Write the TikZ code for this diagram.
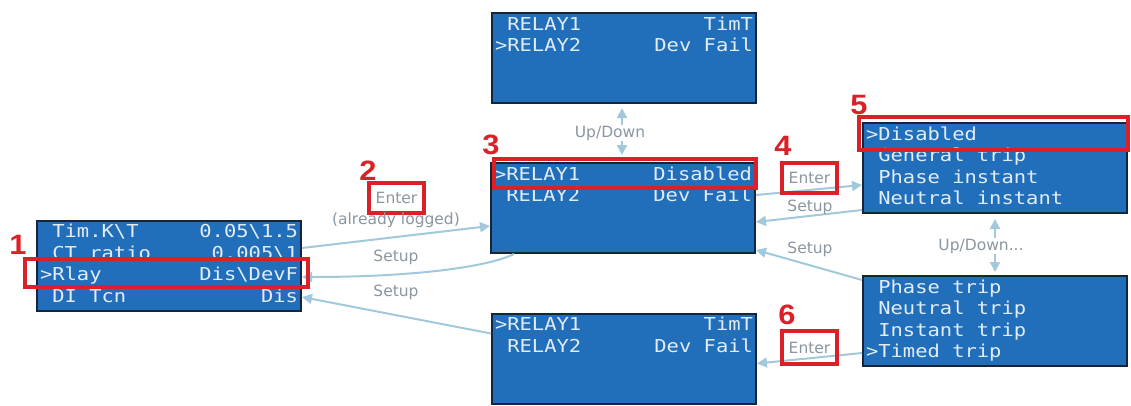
\documentclass[tikz,border=0pt]{standalone}
\usepackage{fontspec}
\setmainfont{DejaVu Sans}
\newfontfamily\lcdfont[FakeStretch=1.15]{DejaVu Sans Mono}
\newfontfamily\numfont[FakeStretch=1.1]{Liberation Sans}
\usetikzlibrary{arrows.meta,calc}
\definecolor{lcdfill}{RGB}{33,111,186}
\definecolor{lcdborder}{RGB}{22,38,58}
\definecolor{lcdtext}{RGB}{226,236,246}
\definecolor{hlred}{RGB}{218,33,40}
\definecolor{connc}{RGB}{162,200,220}
\definecolor{lblc}{RGB}{138,150,160}
\newcommand{\Ln}[2]{\makebox[258pt][l]{\spaceskip=\fontcharwd\font`M\relax\xspaceskip=\spaceskip\strut#1\hfill#2}}
\newcommand{\Sp}{\phantom{>}}
\begin{document}
\begin{tikzpicture}[x=1pt,y=-1pt,
  lcd/.style={draw=lcdborder, line width=2pt, fill=lcdfill, text=lcdtext, minimum width=264pt, minimum height=90pt, inner sep=0pt, align=left, text width=258pt, font=\lcdfont\fontsize{17.8pt}{21.5pt}\selectfont},
  conn/.style={draw=connc, line width=2pt, -{Triangle[length=10pt,width=10pt]}},
  updown/.style={draw=connc, line width=2pt, {Triangle[length=10pt,width=10pt]}-{Triangle[length=10pt,width=10pt]}},
  lbl/.style={text=lblc, font=\fontsize{15.5pt}{17pt}\selectfont, inner sep=1pt},
  enterbox/.style={lbl, draw=hlred, line width=4pt, minimum width=55pt, minimum height=30pt},
  hl/.style={draw=hlred, line width=4pt},
  num/.style={text=hlred, font=\numfont\bfseries\fontsize{28pt}{30pt}\selectfont, inner sep=0pt}
]
\useasboundingbox (0,0) rectangle (1131,405);

% LCD screens
\node[lcd] (b1) at (169,265.5) {\Ln{\Sp Tim.K\textbackslash T}{0.05\textbackslash 1.5}\\\Ln{\Sp CT ratio}{0.005\textbackslash 1}\\\Ln{>Rlay}{Dis\textbackslash DevF}\\\Ln{\Sp DI Tcn}{Dis}};
\node[lcd] (top) at (624,58) {\Ln{\Sp RELAY1}{TimT}\\\Ln{>RELAY2}{Dev Fail}\\\Ln{}{}\\\Ln{}{}};
\node[lcd] (b3) at (623,208) {\Ln{>RELAY1}{Disabled}\\\Ln{\Sp RELAY2}{Dev Fail}\\\Ln{}{}\\\Ln{}{}};
\node[lcd] (bt) at (624,358.5) {\Ln{>RELAY1}{TimT}\\\Ln{\Sp RELAY2}{Dev Fail}\\\Ln{}{}\\\Ln{}{}};
\node[lcd] (b5) at (995,168) {\Ln{>Disabled}{}\\\Ln{\Sp General trip}{}\\\Ln{\Sp Phase instant}{}\\\Ln{\Sp Neutral instant}{}};
\node[lcd] (bBR) at (995,321) {\Ln{\Sp Phase trip}{}\\\Ln{\Sp Neutral trip}{}\\\Ln{\Sp Instant trip}{}\\\Ln{>Timed trip}{}};

% connectors
\draw[conn] ([yshift=17.5]b1.east) -- ([yshift=-18]b3.west);
\draw[conn] ([xshift=-109]b3.south) .. controls (490,266) and (420,277) .. ([yshift=-11.5]b1.east);
\draw[conn] ([yshift=25]bt.west) -- ([yshift=-31.5]b1.east);
\draw[updown, shorten <=4pt, shorten >=7pt] ([xshift=-2]top.south) -- ([xshift=-1]b3.north);
\draw[conn] ([yshift=13]b3.east) -- ([yshift=-17]b5.west);
\draw[conn] ([yshift=4]b5.south west) -- ([yshift=-14]b3.east);
\draw[conn] ([yshift=41]bBR.west) -- ([yshift=-42]b3.east);
\draw[updown, shorten <=5pt, shorten >=3pt] (b5.south) -- (bBR.north);
\draw[conn] ([yshift=-32]bBR.west) -- ([yshift=-5]bt.east);

% labels
\node[enterbox] (en1) at (396.5,198) {Enter};
\node[lbl] (al) at (396,220) {(already logged)};
\node[lbl] (s1) at (396,257) {Setup};
\node[lbl] (s2) at (396,292) {Setup};
\node[lbl, fill=white] (ud1) at (610,133) {Up/Down};
\node[enterbox] (en2) at (809.5,178) {Enter};
\node[lbl] (s3) at (810,207) {Setup};
\node[lbl] (s4) at (810,249) {Setup};
\node[enterbox, minimum height=33pt] (en3) at (809.5,347.5) {Enter};
\node[lbl, fill=white] (ud2) at (981,246) {Up/Down...};

% highlights
\draw[hl] (25,259) rectangle (308,287);
\draw[hl] (494,159) rectangle (756,188);
\draw[hl] (859,117) rectangle (1128,150);
\node[num] (n1) at (18,245) {1};
\node[num] (n2) at (368,171) {2};
\node[num] (n3) at (491,145) {3};
\node[num] (n4) at (783,146) {4};
\node[num] (n5) at (859,105) {5};
\node[num] (n6) at (787,315) {6};
\end{tikzpicture}
\end{document}
